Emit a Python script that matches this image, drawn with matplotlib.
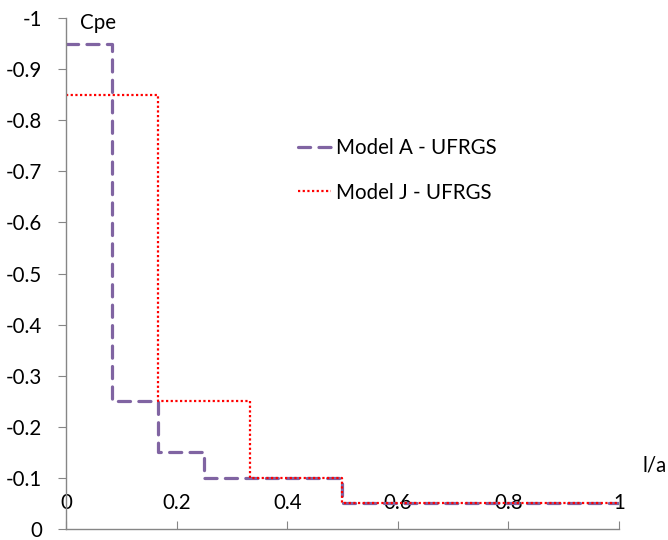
import numpy as np
import matplotlib
matplotlib.use("Agg")
from matplotlib import pyplot
from matplotlib.ticker import FuncFormatter

# step edges (l/a) and Cpe values for each model
edges_a = [0, 1 / 12, 1 / 6, 0.25, 0.5, 1]
cpe_a = [-0.95, -0.25, -0.15, -0.1, -0.05]
edges_j = [0, 1 / 6, 1 / 3, 0.5, 1]
cpe_j = [-0.85, -0.25, -0.1, -0.05]

label_a = "Model A - UFRGS"
label_j = "Model J - UFRGS"
x_ticks = [0, 0.2, 0.4, 0.6, 0.8, 1]
y_ticks = [0, -0.1, -0.2, -0.3, -0.4, -0.5, -0.6, -0.7, -0.8, -0.9, -1]

pyplot.rcParams['font.family'] = ['Lato', 'DejaVu Sans']
font_size = 14.8

fig = pyplot.figure(figsize=(6.68, 5.4), dpi=100)
ax = fig.add_axes([66 / 668, 1 - 529 / 540, (619 - 66) / 668, (529 - 18) / 540])


def stairs_xy(edges, vals):
    xs, ys = [], []
    for i, v in enumerate(vals):
        xs += [edges[i], edges[i + 1]]
        ys += [v, v]
    return xs, ys


xa, ya = stairs_xy(edges_a, cpe_a)
xj, yj = stairs_xy(edges_j, cpe_j)

ax.plot(xa, ya, color="#8064A2", lw=2.3, dashes=(3.8, 2.6), dash_capstyle='round', label=label_a)
ax.plot(xj, yj, color="#FF0000", lw=1.6, linestyle=(0, (1, 1.1)), label=label_j)

ax.set_xlim(0, 1)
ax.set_ylim(0, -1)

ax.spines['top'].set_visible(False)
ax.spines['right'].set_visible(False)
for s in ['left', 'bottom']:
    ax.spines[s].set_color("#868686")
    ax.spines[s].set_linewidth(1.0)

fmt = FuncFormatter(lambda v, p: "0" if abs(v) < 1e-9 else f"{v:g}")
ax.set_xticks(x_ticks)
ax.set_yticks(y_ticks)
ax.xaxis.set_major_formatter(fmt)
ax.yaxis.set_major_formatter(fmt)
ax.tick_params(axis='y', direction='out', length=6, color="#868686", labelsize=font_size, pad=11)
ax.tick_params(axis='x', direction='in', length=6, color="#868686", labelsize=font_size, pad=-26)

fig.text(98 / 668, 1 - 23 / 540, "Cpe", fontsize=font_size, ha='center', va='center')
fig.text(655 / 668, 1 - 465 / 540, "l/a", fontsize=font_size, ha='center', va='center')

ax.legend(loc='upper left', bbox_to_anchor=(298 / 668, 1 - 138 / 540), bbox_transform=fig.transFigure,
          frameon=False, fontsize=font_size, handlelength=1.6, handletextpad=0.25,
          labelspacing=1.2, borderpad=0, borderaxespad=0)

fig.savefig("out.png", dpi=100)
